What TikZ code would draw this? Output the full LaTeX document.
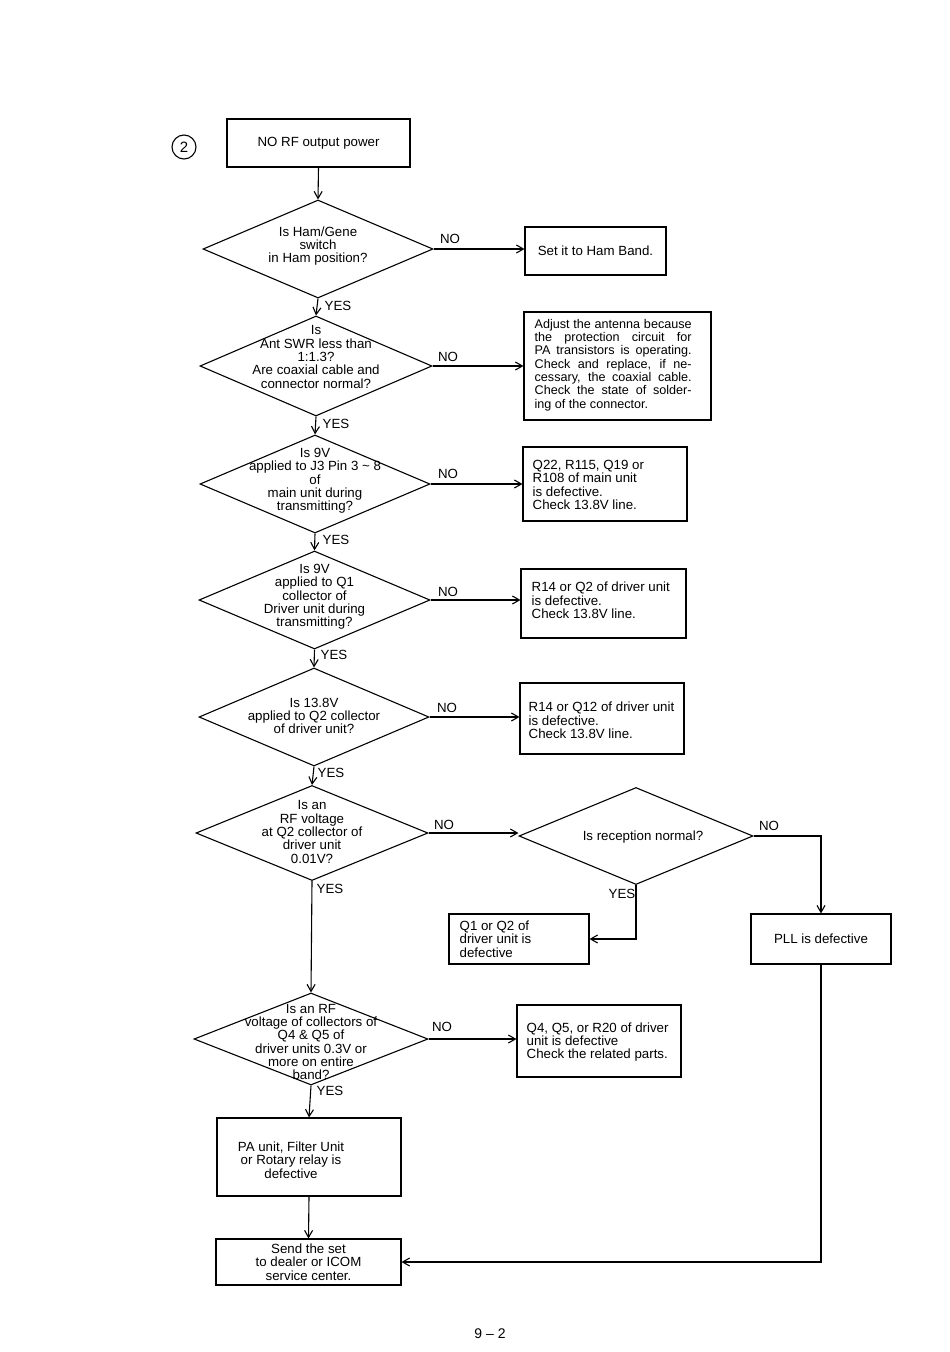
\documentclass[tikz,border=0pt]{standalone}
\usepackage{fontspec}
\setmainfont{Liberation Sans}
\usetikzlibrary{shapes.geometric,arrows.meta,calc}
\begin{document}
\begin{tikzpicture}[x=1pt,y=-1pt,
  every node/.style={font=\fontsize{13.3}{13.3}\selectfont, inner sep=0pt},
  dia/.style={draw, diamond, line width=1.1pt, inner sep=0pt},
  box/.style={draw, rectangle, line width=1.1pt, align=center},
  txt/.style={align=left, anchor=west},
  lbl/.style={},
  arr/.style={line width=1.1pt, -{Straight Barb[length=7pt,width=8pt]}},
  ln/.style={line width=1.1pt}]
\useasboundingbox (0,0) rectangle (950,1352);
\fill[white] (0,0) rectangle (950,1352);

\node[circle, draw, line width=1.1pt, minimum size=24pt, font=\fontsize{15}{16}\selectfont] (num) at (184,147) {2};

% main column
\node[box, minimum width=183pt, minimum height=48pt] (start) at (318.5,143) {NO RF output power};

\node[dia, minimum width=230pt, minimum height=98pt] (d1) at (318,249) {};
\node[align=center] at (318,246) {Is Ham/Gene\\switch\\in Ham position?};
\node[box, minimum width=141pt, minimum height=48pt] (b1) at (595.5,251) {Set it to Ham Band.};

\node[dia, minimum width=232pt, minimum height=100pt] (d2) at (316,366) {};
\node[align=center] at (316,357) {Is\\Ant SWR less than\\1:1.3?\\Are coaxial cable and\\connector normal?};
\node[box, minimum width=187pt, minimum height=108pt] (b2) at (617.5,366) {};
\node[txt, font=\fontsize{12.6}{13.3}\selectfont] at ($(b2.west)+(11,-1)$) {\makebox[157pt][s]{Adjust the antenna because}\\
\makebox[157pt][s]{the protection circuit for}\\
\makebox[157pt][s]{PA transistors is operating.}\\
\makebox[157pt][s]{Check and replace, if ne-}\\
\makebox[157pt][s]{cessary, the coaxial cable.}\\
\makebox[157pt][s]{Check the state of solder-}\\
ing of the connector.};

\node[dia, minimum width=230pt, minimum height=98pt] (d3) at (315,484) {};
\node[align=center] at (315,481) {Is 9V\\applied to J3 Pin 3 \textasciitilde{} 8\\of\\main unit during\\transmitting?};
\node[box, minimum width=164pt, minimum height=74pt] (b3) at (605,484) {};
\node[txt] at ($(b3.west)+(10,1)$) {Q22, R115, Q19 or\\R108 of main unit\\is defective.\\Check 13.8V line.};

\node[dia, minimum width=231pt, minimum height=98pt] (d4) at (314.5,600) {};
\node[align=center] at (314.5,597) {Is 9V\\applied to Q1\\collector of\\Driver unit during\\transmitting?};
\node[box, minimum width=165pt, minimum height=69pt] (b4) at (603.5,603.5) {};
\node[txt] at ($(b4.west)+(11,-3)$) {R14 or Q2 of driver unit\\is defective.\\Check 13.8V line.};

\node[dia, minimum width=230pt, minimum height=98pt] (d5) at (314,717) {};
\node[align=center] at (314,716) {Is 13.8V\\applied to Q2 collector\\of driver unit?};
\node[box, minimum width=164pt, minimum height=71pt] (b5) at (602,718.5) {};
\node[txt] at ($(b5.west)+(9,2)$) {R14 or Q12 of driver unit\\is defective.\\Check 13.8V line.};

\node[dia, minimum width=232pt, minimum height=95pt] (d6) at (312,833) {};
\node[align=center] at (312,832) {Is an\\RF voltage\\at Q2 collector of\\driver unit\\0.01V?};

\node[dia, minimum width=234pt, minimum height=97pt] (d7) at (636,836) {};
\node[align=center] at (643,837) {Is reception normal?};
\node[box, minimum width=140pt, minimum height=50pt] (q) at (519,939) {};
\node[txt] at ($(q.west)+(11,0)$) {Q1 or Q2 of\\driver unit is\\defective};
\node[box, minimum width=140pt, minimum height=50pt] (pll) at (821,939) {PLL is defective};

\node[dia, minimum width=234pt, minimum height=92pt] (d8) at (311,1039) {};
\node[align=center] at (311,1042) {Is an RF\\voltage of collectors of\\Q4 \& Q5 of\\driver units 0.3V or\\more on entire\\band?};
\node[box, minimum width=164pt, minimum height=72pt] (b8) at (599,1041) {};
\node[txt] at ($(b8.west)+(10,1)$) {Q4, Q5, or R20 of driver\\unit is defective\\Check the related parts.};

\node[box, minimum width=184pt, minimum height=78pt] (pa) at (309,1157) {};
\node[align=center] at (291,1160) {PA unit, Filter Unit\\or Rotary relay is\\defective};

\node[box, minimum width=185pt, minimum height=46pt] (send) at (308.5,1262) {Send the set\\to dealer or ICOM\\service center.};

% connectors
\draw[arr] (start.south) -- (d1.north);
\draw[arr] (d1.east) -- (d1.east -| b1.west);
\draw[arr] (d1.south) -- (d2.north);
\draw[arr] (d2.east) -- (d2.east -| b2.west);
\draw[arr] (d2.south) -- (d3.north);
\draw[arr] (d3.east) -- (d3.east -| b3.west);
\draw[arr] (d3.south) -- (d4.north);
\draw[arr] (d4.east) -- (d4.east -| b4.west);
\draw[arr] (d4.south) -- (d5.north);
\draw[arr] (d5.east) -- (d5.east -| b5.west);
\draw[arr] (d5.south) -- (d6.north);
\draw[arr] (d6.east) -- (d6.east -| d7.west);
\draw[arr] (d7.east) -| (pll.north);
\draw[arr] (d7.south) |- (q.east);
\draw[arr] (d6.south) -- (d8.north);
\draw[arr] (d8.east) -- (d8.east -| b8.west);
\draw[arr] (d8.south) -- (pa.north);
\draw[arr] (pa.south) -- (send.north);
\draw[arr] (pll.south) |- (send.east);

% labels
\node[lbl] at (450,239) {NO};
\node[lbl] at (448,357) {NO};
\node[lbl] at (448,474) {NO};
\node[lbl] at (448,592) {NO};
\node[lbl] at (447,708) {NO};
\node[lbl] at (444,825) {NO};
\node[lbl] at (769,826) {NO};
\node[lbl] at (442,1027) {NO};
\node[lbl] at (338,306) {YES};
\node[lbl] at (336,424) {YES};
\node[lbl] at (336,540) {YES};
\node[lbl] at (334,655) {YES};
\node[lbl] at (331,773) {YES};
\node[lbl] at (330,889) {YES};
\node[lbl] at (622,894) {YES};
\node[lbl] at (330,1091) {YES};

\node[font=\fontsize{14}{16}\selectfont] (page) at (490,1334) {9 -- 2};
\end{tikzpicture}
\end{document}
